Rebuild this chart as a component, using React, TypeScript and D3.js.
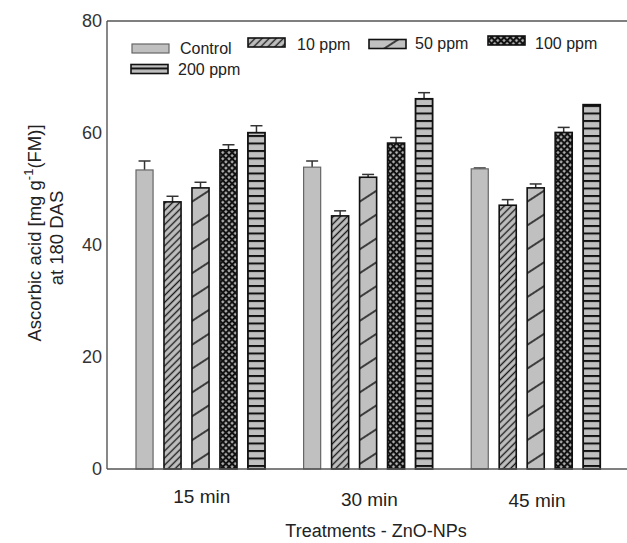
import React from "react";
import * as d3 from "d3";

const groups = ["15 min", "30 min", "45 min"];
const series = ["Control", "10 ppm", "50 ppm", "100 ppm", "200 ppm"];
const controlVals = [53.4, 53.9, 53.6];
const ppm10Vals = [47.7, 45.2, 47.1];
const ppm50Vals = [50.2, 52.1, 50.2];
const ppm100Vals = [57.0, 58.2, 60.1];
const ppm200Vals = [60.05, 66.1, 65.05];
const controlErr = [1.6, 1.1, 0.15];
const ppm10Err = [1.0, 0.9, 1.0];
const ppm50Err = [1.0, 0.5, 0.7];
const ppm100Err = [0.9, 1.0, 0.9];
const ppm200Err = [1.25, 1.1, 0];
const yTicks = [0, 20, 40, 60, 80];

const values = [controlVals, ppm10Vals, ppm50Vals, ppm100Vals, ppm200Vals];
const errors = [controlErr, ppm10Err, ppm50Err, ppm100Err, ppm200Err];

const fills = ["#c0c0c0", "url(#p10)", "url(#p50)", "url(#p100)", "url(#p200)"];
const strokes = ["#666", "#111", "#111", "#111", "#111"];
const strokeW = [1.2, 1.6, 1.6, 1.6, 1.8];

// legend layout: [swatchX, swatchCenterY, textX, textBaseline]
const legendLayout = [
  [132, 48.5, 180, 54],
  [248, 42.5, 297, 49.5],
  [369, 44, 415, 49],
  [488, 40.5, 535, 48.5],
  [131, 69, 178, 75],
];

export default function App() {
  const W = 627, H = 543;
  const left = 107, top = 21, bottom = 469;
  const y = d3.scaleLinear().domain([0, 80]).range([bottom, top]);
  const x = d3.scaleBand<string>().domain(groups).range([117, 619.8]).paddingInner(0).paddingOuter(0);
  const xs = d3.scaleBand<string>().domain(series).range([19, 148]).paddingInner(0.39).paddingOuter(0);
  const bw = xs.bandwidth();
  const font = "'Liberation Sans', Arial, sans-serif";
  const xLabelBase = [503, 506, 506.5];

  return (
    <svg width={W} height={H} style={{ position: "absolute", left: 0, top: 0, background: "#fff" }} fontFamily={font}>
      <defs>
        <pattern id="p10" patternUnits="userSpaceOnUse" width={5} height={5} patternTransform="rotate(45)">
          <rect width={5} height={5} fill="#c0c0c0" />
          <line x1={2.5} y1={0} x2={2.5} y2={5} stroke="#1a1a1a" strokeWidth={1.4} />
        </pattern>
        <pattern id="p50" patternUnits="userSpaceOnUse" width={20} height={20} patternTransform="rotate(-33)">
          <rect width={20} height={20} fill="#c0c0c0" />
          <line x1={0} y1={10} x2={20} y2={10} stroke="#111" strokeWidth={1.5} />
        </pattern>
        <pattern id="p100" patternUnits="userSpaceOnUse" width={4.4} height={4.4} patternTransform="rotate(45)">
          <rect width={4.4} height={4.4} fill="#111" />
          <rect x={1.1} y={1.1} width={2.3} height={2.3} fill="#bdbdbd" />
        </pattern>
        <pattern id="p200" patternUnits="userSpaceOnUse" width={10} height={7.5}>
          <rect width={10} height={7.5} fill="#c0c0c0" />
          <rect x={0} y={0} width={10} height={2} fill="#111" />
        </pattern>
      </defs>

      {/* frame */}
      <line x1={left} y1={top} x2={W} y2={top} stroke="#555" strokeWidth={1.4} />
      <line x1={left} y1={top} x2={left} y2={bottom} stroke="#555" strokeWidth={1.4} />

      {/* bars */}
      {groups.map((g, gi) => (
        <g key={g} transform={`translate(${x(g)},0)`}>
          {series.map((s, si) => {
            const v = values[si][gi];
            const e = errors[si][gi];
            const bx = xs(s)!;
            const cx = bx + bw / 2;
            return (
              <g key={s}>
                {e > 0 && (
                  <g stroke="#333" strokeWidth={1.5}>
                    <line x1={cx} x2={cx} y1={y(v)} y2={y(v + e)} />
                    <line x1={cx - 6} x2={cx + 6} y1={y(v + e)} y2={y(v + e)} />
                  </g>
                )}
                <rect x={bx} y={y(v)} width={bw} height={y(0) - y(v)} fill={fills[si]} stroke={strokes[si]} strokeWidth={strokeW[si]} />
              </g>
            );
          })}
        </g>
      ))}

      <line x1={left} y1={bottom} x2={W} y2={bottom} stroke="#555" strokeWidth={1.4} />

      {/* y ticks */}
      {yTicks.map((t) => (
        <text key={t} x={102} y={y(t)} dy="0.36em" textAnchor="end" fontSize={18} fill="#333">{t}</text>
      ))}

      {/* x tick labels */}
      {groups.map((g, gi) => (
        <text key={g} x={x(g)! + x.bandwidth() / 2 + 1} y={xLabelBase[gi]} textAnchor="middle" fontSize={19} fill="#222">{g}</text>
      ))}

      {/* axis titles */}
      <text x={376} y={537} textAnchor="middle" fontSize={18} fill="#222">Treatments - ZnO-NPs</text>
      <g transform="translate(41,233) rotate(-90)">
        <text x={0} y={0} textAnchor="middle" fontSize={18.5} fill="#222">
          Ascorbic acid [mg g<tspan dy={-8} fontSize={13}>-1</tspan><tspan dy={8}>(FM)]</tspan>
        </text>
      </g>
      <g transform="translate(63,238) rotate(-90)">
        <text x={0} y={0} textAnchor="middle" fontSize={18.5} fill="#222">at 180 DAS</text>
      </g>

      {/* legend */}
      {series.map((s, si) => {
        const [sx, sy, tx, tb] = legendLayout[si];
        return (
          <g key={s}>
            <rect x={sx} y={sy - 4.5} width={37} height={9} fill={fills[si]} stroke={strokes[si]} strokeWidth={si === 0 ? 1.2 : 1.6} />
            <text x={tx} y={tb} fontSize={16} fill="#222">{s}</text>
          </g>
        );
      })}
    </svg>
  );
}
